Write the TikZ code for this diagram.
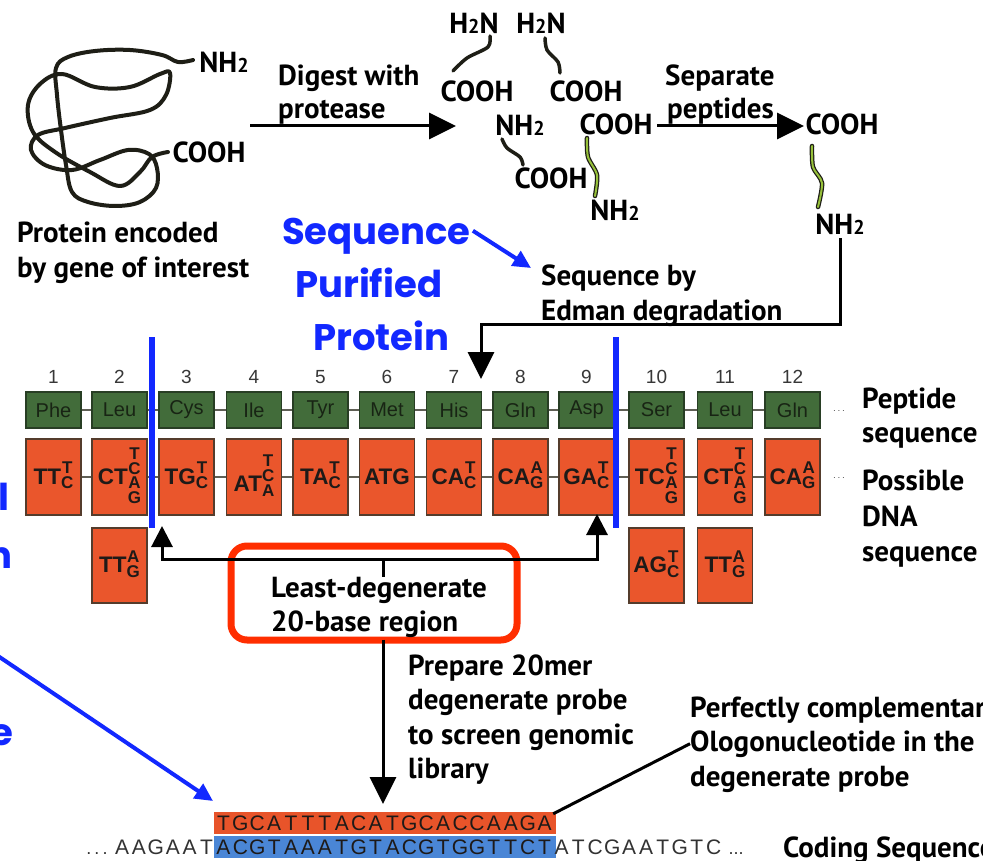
\documentclass[tikz,border=0pt]{standalone}
\usepackage{fontspec}
\setmainfont{PT Sans}
\newfontfamily\helv{Liberation Sans}
\newfontfamily\comic{Poppins}
\usetikzlibrary{arrows.meta}

\definecolor{pepgreen}{RGB}{66,108,58}
\definecolor{pepedge}{RGB}{40,62,36}
\definecolor{pepink}{RGB}{24,36,20}
\definecolor{codonfill}{RGB}{234,86,44}
\definecolor{codonedge}{RGB}{84,60,44}
\definecolor{codink}{RGB}{30,26,24}
\definecolor{linkgray}{RGB}{95,95,85}
\definecolor{markblue}{RGB}{18,40,255}
\definecolor{boxred}{RGB}{255,46,0}
\definecolor{strand}{RGB}{30,30,22}
\definecolor{strandgreen}{RGB}{150,192,58}
\definecolor{probeorange}{RGB}{232,84,42}
\definecolor{probeblue}{RGB}{74,134,214}
\definecolor{seqink}{RGB}{50,50,50}
\definecolor{numgray}{RGB}{55,55,55}

% small two used in NH2 / H2N
\newcommand\subtwo{{\fontsize{20}{20}\selectfont 2}}
% codon: leading bases followed by a vertical stack of alternative third bases
\newcommand\cdn[3][2pt]{#2\raisebox{#1}{$\vcenter{\hbox{\fontsize{17}{15}\selectfont\renewcommand\arraystretch{0.66}\begin{tabular}{@{}c@{}}#3\end{tabular}}}$}}

\begin{document}
\begin{tikzpicture}[x=1pt,y=-1pt,
  lab/.style={font=\fontsize{29}{34}\selectfont\bfseries, anchor=base west, inner sep=0pt},
  chem/.style={font=\fontsize{29}{34}\selectfont\bfseries, inner sep=0pt},
  flow/.style={line width=3pt},
  bigtip/.style={-{Triangle[length=27pt,width=26pt]}},
  smalltip/.style={-{Triangle[length=21pt,width=21pt]}},
  bluetip/.style={-{Triangle[length=18pt,width=17pt]}},
  comictext/.style={font=\comic\fontsize{37}{40}\selectfont\bfseries, text=markblue, anchor=base west, inner sep=0pt},
  bluearrow/.style={draw=markblue, line width=4pt, bluetip},
  cutline/.style={draw=markblue, line width=6pt},
  pep/.style={draw=pepedge, fill=pepgreen, line width=1.2pt, minimum width=55pt, minimum height=36pt, inner sep=0pt, font=\helv\fontsize{20}{20}\selectfont, text=pepink},
  codon/.style={draw=codonedge, fill=codonfill, line width=1.2pt, minimum width=55pt, minimum height=76pt, inner sep=0pt, font=\helv\bfseries\fontsize{22.5}{22.5}\selectfont, text=codink},
  link/.style={draw=linkgray, line width=1.5pt},
  num/.style={font=\helv\fontsize{19}{19}\selectfont, text=numgray, inner sep=0pt},
  seq/.style={font=\helv\fontsize{21}{21}\selectfont, anchor=base, inner sep=0pt},
  strandline/.style={draw=strand, line width=4pt, line cap=round, line join=round},
  greenstrand/.style={draw=strandgreen, line width=2pt, line cap=round},
]
\useasboundingbox (0,0) rectangle (983,861);
\fill[white] (0,0) rectangle (983,861);

% ---------- intact protein ----------
\draw[strandline] plot[smooth, tension=0.6] coordinates {
 (193,60) (178,62) (162,55) (130,50) (95,51) (68,57) (56,68) (57,95) (61,130)
 (66,165) (72,192) (88,202) (115,206) (140,202) (156,188) (157,168) (149,154)
 (128,150) (100,160) (72,170) (45,165) (31,150) (38,135) (65,128) (110,118)
 (150,110) (166,95) (170,73) (160,74) (130,87) (95,87) (62,74) (40,84) (28,105)
 (33,132) (55,152) (90,172) (120,186) (140,172) (152,157) (168,152)};
\node[chem] (protN) at (224,62) {NH\subtwo};
\node[chem] (protC) at (209,152) {COOH};
\node[lab] (protL1) at (17,243) {Protein encoded};
\node[lab] (protL2) at (17,278) {by gene of interest};

% ---------- digestion ----------
\coordinate (digA) at (250,126);
\coordinate (digB) at (456,126);
\draw[flow, bigtip] (digA) -- (digB);
\node[lab] (digL1) at (278,86) {Digest with};
\node[lab] (digL2) at (278,119) {protease};

% peptide fragments
\node[chem] (fa1) at (474,23) {H\subtwo N};
\node[chem] (fb1) at (541,23) {H\subtwo N};
\node[chem] (fa2) at (477,91) {COOH};
\node[chem] (fb2) at (586,91) {COOH};
\node[chem] (fc1) at (520,125) {NH\subtwo};
\node[chem] (fd1) at (616,124) {COOH};
\node[chem] (fc2) at (551,178) {COOH};
\node[chem] (fd2) at (615,210) {NH\subtwo};
\draw[strandline, line width=3.5pt] plot[smooth] coordinates {(490,36) (488,47) (467,58) (453,71)};
\draw[strandline, line width=3.5pt] plot[smooth] coordinates {(545,38) (547,50) (558,62) (560,73)};
\draw[strandline, line width=3.5pt] plot[smooth] coordinates {(502,139) (507,148) (520,157) (523,165)};
\draw[strandline, line width=4.5pt] plot[smooth] coordinates {(587,138) (588,157) (597,175) (595,196)};
\draw[greenstrand] plot[smooth] coordinates {(587,138) (588,157) (597,175) (595,196)};

% ---------- separation ----------
\coordinate (sepA) at (657,126);
\coordinate (sepB) at (804,126);
\draw[flow, bigtip] (sepA) -- (sepB);
\node[lab] (sepL1) at (665,86) {Separate};
\node[lab] (sepL2) at (667,119) {peptides};
\node[chem] (fe1) at (842,124) {COOH};
\node[chem] (fe2) at (840,224) {NH\subtwo};
\draw[strandline, line width=4.5pt] plot[smooth] coordinates {(812,146) (813,167) (822,183) (818,207)};
\draw[greenstrand] plot[smooth] coordinates {(812,146) (813,167) (822,183) (818,207)};

% ---------- Edman sequencing ----------
\node[comictext] (bq1) at (282,245) {Sequence};
\node[comictext] (bq2) at (295,298) {Purified};
\node[comictext] (bq3) at (313,350) {Protein};
\coordinate (bqTip) at (531,268);
\draw[bluearrow] (bq1.east) ++(2,-6) -- (bqTip);
\node[lab] (edL1) at (541,286) {Sequence by};
\node[lab] (edL2) at (541,320) {Edman degradation};
\coordinate (edCorner) at (481,324);
\coordinate (edTip) at (481,379);
\draw[flow, bigtip] (fe2.south) ++(0,4) |- (edCorner) -- (edTip);

% ---------- peptide and codon table ----------
\foreach \cx/\aa [count=\i] in {53.5/Phe,119.5/Leu,186.5/Cys,254/Ile,320.5/Tyr,387/Met,454/His,520.5/Gln,586.5/Asp,656.5/Ser,725/Leu,792.5/Gln}{
  \node[num] (n\i) at (\cx,377) {\i};
  \node[pep] (p\i) at (\cx,410) {\aa};
  \coordinate (c\i) at (\cx,477);
  \coordinate (e\i) at (\cx,565.5);
}
\node[codon] (d1) at (c1) {\cdn{TT}{T\\C}};
\node[codon] (d2) at (c2) {\cdn{CT}{T\\C\\A\\G}};
\node[codon] (d3) at (c3) {\cdn{TG}{T\\C}};
\node[codon] (d4) at (c4) {\cdn[9.5pt]{AT}{T\\C\\A}};
\node[codon] (d5) at (c5) {\cdn{TA}{T\\C}};
\node[codon] (d6) at (c6) {ATG};
\node[codon] (d7) at (c7) {\cdn{CA}{T\\C}};
\node[codon] (d8) at (c8) {\cdn{CA}{A\\G}};
\node[codon] (d9) at (c9) {\cdn{GA}{T\\C}};
\node[codon] (d10) at (c10) {\cdn{TC}{T\\C\\A\\G}};
\node[codon] (d11) at (c11) {\cdn{CT}{T\\C\\A\\G}};
\node[codon] (d12) at (c12) {\cdn{CA}{A\\G}};
\node[codon, minimum height=75pt] (x2) at (e2) {\cdn{TT}{A\\G}};
\node[codon, minimum height=75pt] (x10) at (e10) {\cdn{AG}{T\\C}};
\node[codon, minimum height=75pt] (x11) at (e11) {\cdn{TT}{A\\G}};
\foreach \i [evaluate=\i as \j using int(\i+1)] in {1,...,11}{
  \draw[link] (p\i.east) -- (p\j.west);
  \draw[link] (d\i.east) -- (d\j.west);
}
\node[text=numgray, inner sep=0pt] (pdots) at (839,411) {$\cdots$};
\node[text=numgray, inner sep=0pt] (ddots) at (839,478) {$\cdots$};
\node[lab] (tabL1) at (862,408) {Peptide};
\node[lab] (tabL2) at (862,442) {sequence};
\node[lab] (tabL3) at (862,490) {Possible};
\node[lab] (tabL4) at (862,526) {DNA};
\node[lab] (tabL5) at (862,561) {sequence};

% region boundaries
\coordinate (cutLa) at (152,337);
\coordinate (cutLb) at (152,528);
\coordinate (cutRa) at (616,337);
\coordinate (cutRb) at (616,528);
\draw[cutline] (cutLa) -- (cutLb);
\draw[cutline] (cutRa) -- (cutRb);

% ---------- least-degenerate region ----------
\node[draw=boxred, line width=7pt, rounded corners=16pt, minimum width=286pt, minimum height=94pt, inner sep=0pt] (region) at (374,593) {};
\coordinate (brMid) at (383,559);
\coordinate (brTick) at (383,577);
\coordinate (brL) at (162,526);
\coordinate (brR) at (597,514);
\draw[flow, smalltip] (brMid) -| (brL);
\draw[flow, smalltip] (brMid) -| (brR);
\draw[flow] (brMid) -- (brTick);
\node[lab] (regL1) at (271,597) {Least-degenerate};
\node[lab] (regL2) at (271,631) {20-base region};

% ---------- probe ----------
\coordinate (probeTip) at (383,804);
\draw[flow, bigtip] (region.south) ++(9,-4) -- (probeTip);
\node[lab] (prL1) at (408,675) {Prepare 20mer};
\node[lab] (prL2) at (408,709) {degenerate probe};
\node[lab] (prL3) at (408,744) {to screen genomic};
\node[lab] (prL4) at (408,778) {library};

\node[fill=probeorange, minimum width=342pt, minimum height=22pt, inner sep=0pt] (probe) at (385,823) {};
\node[fill=probeblue, minimum width=342pt, minimum height=22pt, inner sep=0pt] (target) at (385,847) {};
\foreach \ch [count=\k] in {T,G,C,A,T,T,T,A,C,A,T,G,C,A,C,C,A,A,G,A}
  \node[seq, text=codink] (t\k) at ({223.5+16.9*(\k-1)},830) {\ch};
\foreach \ch [count=\k] in {A,C,G,T,A,A,A,T,G,T,A,C,G,T,G,G,T,T,C,T}
  \node[seq, text=codink] (b\k) at ({223.5+16.9*(\k-1)},854) {\ch};
\foreach \ch [count=\k] in {A,A,G,A,A,T}
  \node[seq, text=seqink] (l\k) at ({223.5-16.9*(7-\k)},854) {\ch};
\foreach \ch [count=\k] in {A,T,C,G,A,A,T,G,T,C}
  \node[seq, text=seqink] (r\k) at ({223.5+16.9*(19+\k)},854) {\ch};
\node[seq, text=seqink, font=\helv\fontsize{18}{18}\selectfont] (ldots) at (97,854) {.\,.\,.};
\node[seq, text=seqink, font=\helv\fontsize{18}{18}\selectfont] (rdots) at (736,854) {...};
\node[lab] (codL) at (783,857) {Coding Sequence};

\node[lab] (olL1) at (690,717) {Perfectly complementary};
\node[lab] (olL2) at (690,751) {Ologonucleotide in the};
\node[lab] (olL3) at (690,786) {degenerate probe};
\draw[line width=3pt] (probe.north east) ++(-3,2) -- (olL2.west);

% ---------- blue annotations at the left edge ----------
\node[comictext, anchor=base east] (edgeL) at (10,510) {l};
\node[comictext, anchor=base east] (edgeN) at (13,568) {n};
\node[comictext, anchor=base east] (edgeE) at (13,745) {e};
\coordinate (blueA) at (-2,656);
\coordinate (blueB) at (213,801);
\draw[bluearrow] (blueA) -- (blueB);
\end{tikzpicture}
\end{document}
